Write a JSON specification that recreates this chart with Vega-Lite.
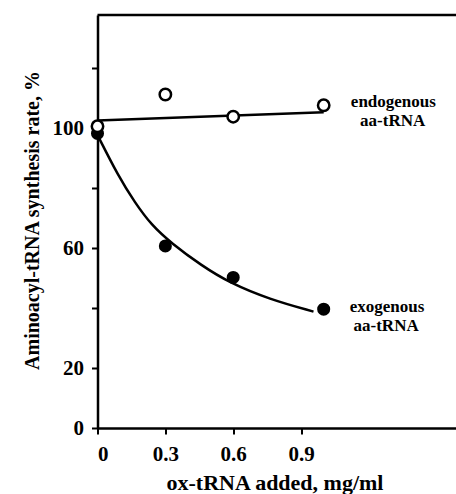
{
  "$schema": "https://vega.github.io/schema/vega-lite/v6.json",
  "width": 358.5,
  "height": 413,
  "autosize": "none",
  "padding": {"left": 97.5, "top": 15, "right": 0, "bottom": 66},
  "background": "white",
  "config": {
    "view": {"stroke": null},
    "axis": {
      "grid": false,
      "domainColor": "black",
      "domainWidth": 2.5,
      "tickColor": "black",
      "tickWidth": 2,
      "tickSize": 6,
      "labelFont": "Liberation Serif",
      "labelFontWeight": "bold",
      "labelFontSize": 21,
      "labelColor": "black",
      "titleFont": "Liberation Serif",
      "titleFontWeight": "bold",
      "titleColor": "black"
    }
  },
  "datasets": {
    "pts": [
      {"series": "exogenous", "x": 0, "y": 98.2},
      {"series": "exogenous", "x": 0.3, "y": 60.7},
      {"series": "exogenous", "x": 0.6, "y": 50.2},
      {"series": "exogenous", "x": 1.0, "y": 39.6},
      {"series": "endogenous", "x": 0, "y": 100.6},
      {"series": "endogenous", "x": 0.3, "y": 111.2},
      {"series": "endogenous", "x": 0.6, "y": 103.8},
      {"series": "endogenous", "x": 1.0, "y": 107.6}
    ],
    "curves": [
      {"series": "endogenous", "x": 0, "y": 102.5},
      {"series": "endogenous", "x": 1.0, "y": 105.3},
      {"series": "exogenous", "x": 0, "y": 97.7},
      {"series": "exogenous", "x": 0.092, "y": 84.0},
      {"series": "exogenous", "x": 0.165, "y": 75.2},
      {"series": "exogenous", "x": 0.239, "y": 67.6},
      {"series": "exogenous", "x": 0.327, "y": 61.6},
      {"series": "exogenous", "x": 0.459, "y": 54.2},
      {"series": "exogenous", "x": 0.584, "y": 48.4},
      {"series": "exogenous", "x": 0.76, "y": 42.9},
      {"series": "exogenous", "x": 0.955, "y": 38.8}
    ],
    "notes": [
      {"x": 1.308, "y": 108.7, "label": "endogenous"},
      {"x": 1.305, "y": 102.2, "label": "aa-tRNA"},
      {"x": 1.28, "y": 40.3, "label": "exogenous"},
      {"x": 1.276, "y": 34.0, "label": "aa-tRNA"}
    ]
  },
  "layer": [
    {
      "data": {"values": [{}]},
      "mark": {"type": "rule", "color": "black", "strokeWidth": 2.5},
      "encoding": {
        "y": {"datum": 137.7, "type": "quantitative", "scale": {"domain": [0, 137.7], "nice": false, "zero": false}}
      }
    },
    {
      "data": {"name": "curves"},
      "mark": {"type": "line", "color": "black", "strokeWidth": 2.5, "interpolate": "basis"},
      "encoding": {
        "detail": {"field": "series"},
        "x": {
          "field": "x", "type": "quantitative",
          "scale": {"domain": [0, 1.585], "nice": false, "zero": false},
          "axis": {
            "values": [0, 0.3, 0.6, 0.9],
            "labelExpr": "datum.value == 0 ? '0' : format(datum.value, '.1f')",
            "labelBaseline": "alphabetic",
            "labelPadding": 26,
            "title": "ox-tRNA added, mg/ml",
            "titleFontSize": 22,
            "titleBaseline": "alphabetic",
            "titleY": 61,
            "titleX": 177
          }
        },
        "y": {
          "field": "y", "type": "quantitative",
          "scale": {"domain": [0, 137.7], "nice": false, "zero": false},
          "axis": {
            "values": [0, 20, 40, 60, 80, 100, 120],
            "labelExpr": "(datum.value == 40 || datum.value == 80 || datum.value == 120) ? '' : datum.label",
            "labelPadding": 8,
            "title": "Aminoacyl-tRNA synthesis rate, %",
            "titleFontSize": 20,
            "titleBaseline": "alphabetic",
            "titleX": -59.5,
            "titleY": 205,
            "titleAngle": -90
          }
        }
      }
    },
    {
      "data": {"name": "pts"},
      "transform": [{"filter": "datum.series == 'exogenous'"}],
      "mark": {"type": "point", "shape": "circle", "filled": true, "color": "black", "size": 170, "opacity": 1},
      "encoding": {
        "x": {"field": "x", "type": "quantitative", "scale": {"domain": [0, 1.585], "nice": false, "zero": false}},
        "y": {"field": "y", "type": "quantitative", "scale": {"domain": [0, 137.7], "nice": false, "zero": false}}
      }
    },
    {
      "data": {"name": "pts"},
      "transform": [{"filter": "datum.series == 'endogenous'"}],
      "mark": {"type": "point", "shape": "circle", "filled": false, "fill": "white", "fillOpacity": 1, "stroke": "black", "strokeWidth": 2.5, "size": 130, "opacity": 1},
      "encoding": {
        "x": {"field": "x", "type": "quantitative", "scale": {"domain": [0, 1.585], "nice": false, "zero": false}},
        "y": {"field": "y", "type": "quantitative", "scale": {"domain": [0, 137.7], "nice": false, "zero": false}}
      }
    },
    {
      "data": {"name": "notes"},
      "mark": {"type": "text", "font": "Liberation Serif", "fontWeight": "bold", "fontSize": 17, "color": "black", "align": "center", "baseline": "middle"},
      "encoding": {
        "x": {"field": "x", "type": "quantitative", "scale": {"domain": [0, 1.585], "nice": false, "zero": false}},
        "y": {"field": "y", "type": "quantitative", "scale": {"domain": [0, 137.7], "nice": false, "zero": false}},
        "text": {"field": "label"}
      }
    }
  ]
}
